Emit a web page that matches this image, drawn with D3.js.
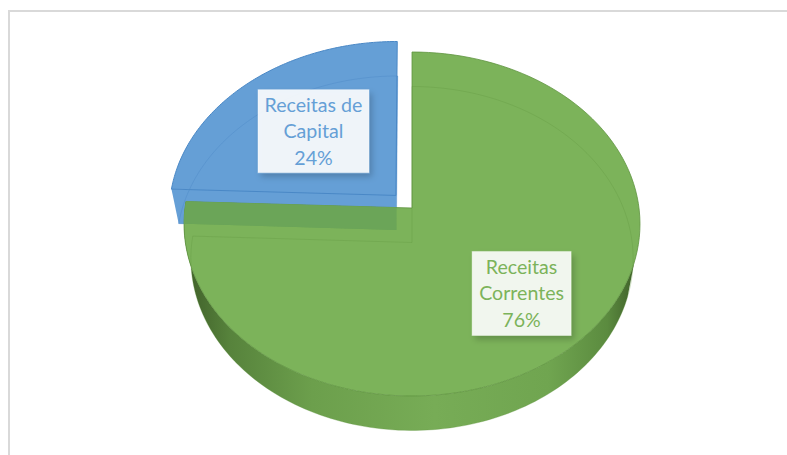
<!DOCTYPE html>
<html>
<head>
<meta charset="utf-8">
<script src="https://cdn.jsdelivr.net/npm/d3@7"></script>
<style>
  html, body { margin: 0; padding: 0; background: #fff; overflow: hidden; }
  svg { display: block; }
</style>
</head>
<body>
<svg id="chart" width="787" height="455"></svg>
<script>
// data (shown rounded as 76% / 24%)
var categories = ["Receitas Correntes", "Receitas de Capital"];
var values = [75.6, 24.4];
var percentLabels = ["76%", "24%"];
var labelLines = [["Receitas", "Correntes"], ["Receitas de", "Capital"]];

var width = 787, height = 455;
var greenColor = "#7cb35a", blueColor = "#659fd6";

// 3d look: the top of the pie is a circle under a small perspective
var cx = 412, cy = 208, a = 227, b = 170.5, k = 0.093;
var depth = 34.5, bottomShrink = 0.97;
var explode = [0, 0.103];     // how far each slice is pulled out
var labelRadius = [0.665, 0.55];

var svg = d3.select("#chart");
var defs = svg.append("defs");

var wallGrad = defs.append("linearGradient")
  .attr("id", "wallGrad")
  .attr("gradientUnits", "userSpaceOnUse")
  .attr("x1", cx - a).attr("x2", cx + a).attr("y1", 0).attr("y2", 0);
[[0, "#3f5f29"], [0.1, "#57833c"], [0.28, "#6c9f4c"], [0.55, "#77ac56"],
 [0.8, "#70a550"], [0.93, "#5b8b3f"], [1, "#3c5b27"]].forEach(function(s) {
  wallGrad.append("stop").attr("offset", s[0]).attr("stop-color", s[1]);
});

var shadow = defs.append("filter").attr("id", "boxShadow")
  .attr("x", "-20%").attr("y", "-20%").attr("width", "140%").attr("height", "140%");
shadow.append("feDropShadow").attr("dx", 3).attr("dy", 4)
  .attr("stdDeviation", 3).attr("flood-color", "#000").attr("flood-opacity", 0.22);

// outer frame of the chart area
svg.append("rect")
  .attr("x", 9).attr("y", 11).attr("width", 800).attr("height", 500)
  .attr("fill", "#fff").attr("stroke", "#d9d9d9").attr("stroke-width", 2);

var pie = d3.pie().sort(null).value(function(d) { return d; });
var arcs = pie(values);

// disc coords to screen, level 0 = top face, 1 = bottom face
function project(u, v, level) {
  var w = 1 - k * v;
  return [
    cx + a * u / w * (level ? bottomShrink : 1),
    cy + b * v / w + level * depth
  ];
}

function discPoint(angle, r, i, level) {
  var mid = (arcs[i].startAngle + arcs[i].endAngle) / 2;
  var u = r * Math.sin(angle) + explode[i] * Math.sin(mid);
  var v = -r * Math.cos(angle) - explode[i] * Math.cos(mid);
  return project(u, v, level);
}

function arcPoints(a0, a1, i, level) {
  return d3.range(0, 121).map(function(n) {
    return discPoint(a0 + (a1 - a0) * n / 120, 1, i, level);
  });
}

var line = d3.line();

function sectorPath(i, level) {
  var pts = arcPoints(arcs[i].startAngle, arcs[i].endAngle, i, level);
  pts.unshift(discPoint(0, 0, i, level));
  return line(pts) + "Z";
}

// flat cut face of a slice along its start or end edge
function cutPath(i, angle) {
  return line([
    discPoint(0, 0, i, 0), discPoint(angle, 1, i, 0),
    discPoint(angle, 1, i, 1), discPoint(0, 0, i, 1)
  ]) + "Z";
}

// blue slice, behind the green one
var blue = svg.append("g");
blue.append("path").attr("d", cutPath(1, arcs[1].startAngle))
  .attr("fill", blueColor);
blue.append("path").attr("d", sectorPath(1, 1))
  .attr("fill", blueColor);
blue.append("path").attr("d", sectorPath(1, 0))
  .attr("fill", blueColor).attr("stroke", "#4a88c6").attr("stroke-width", 1);
blue.append("path").attr("d", sectorPath(1, 1))
  .attr("fill", "none").attr("stroke", "#4a88c6").attr("stroke-opacity", 0.4);

// green wall, only the lower band of the rim can be seen
var wallTop = arcPoints(Math.PI * 0.6, arcs[0].endAngle, 0, 0);
var wallBottom = arcPoints(Math.PI * 0.6, arcs[0].endAngle, 0, 1).reverse();
svg.append("path")
  .attr("d", line(wallTop.concat(wallBottom)) + "Z")
  .attr("fill", "url(#wallGrad)");

// green top face
var greenTop = sectorPath(0, 0);
svg.append("path").attr("d", greenTop).attr("fill", greenColor)
  .attr("stroke", "#5f9440").attr("stroke-width", 0.8);

defs.append("clipPath").attr("id", "greenClip")
  .append("path").attr("d", greenTop);

// blue seen through the green face
var through = svg.append("g").attr("clip-path", "url(#greenClip)");
through.append("path").attr("d", cutPath(1, arcs[1].startAngle)).attr("fill", "#6ba558");
through.append("path").attr("d", sectorPath(1, 1)).attr("fill", "#6ba558");
through.append("path").attr("d", sectorPath(1, 0)).attr("fill", "#6ba558");

// faint bottom face seen through the green face
svg.append("path").attr("d", sectorPath(0, 1))
  .attr("fill", "none").attr("stroke", "#5f9440").attr("stroke-opacity", 0.3);

// data labels
var fontSize = 19.6, lineHeight = 26.5;
var boxW = [99, 111], boxH = [84, 83];

arcs.forEach(function(d, i) {
  var mid = (d.startAngle + d.endAngle) / 2;
  var p = discPoint(mid, labelRadius[i], i, 0);
  var color = i === 0 ? greenColor : blueColor;
  var g = svg.append("g").attr("transform", "translate(" + p[0] + "," + p[1] + ")");

  g.append("rect")
    .attr("x", -boxW[i] / 2).attr("y", -boxH[i] / 2)
    .attr("width", boxW[i]).attr("height", boxH[i])
    .attr("fill", "#fff").attr("fill-opacity", 0.89)
    .attr("stroke", "#fff").attr("stroke-opacity", 0.35)
    .attr("filter", "url(#boxShadow)");

  labelLines[i].concat([percentLabels[i]]).forEach(function(t, n) {
    g.append("text")
      .attr("x", 0)
      .attr("y", (n - 1) * lineHeight + 7)
      .attr("text-anchor", "middle")
      .attr("font-family", "Lato, 'Open Sans', sans-serif")
      .attr("font-size", fontSize)
      .attr("fill", color)
      .text(t);
  });
});
</script>
</body>
</html>
